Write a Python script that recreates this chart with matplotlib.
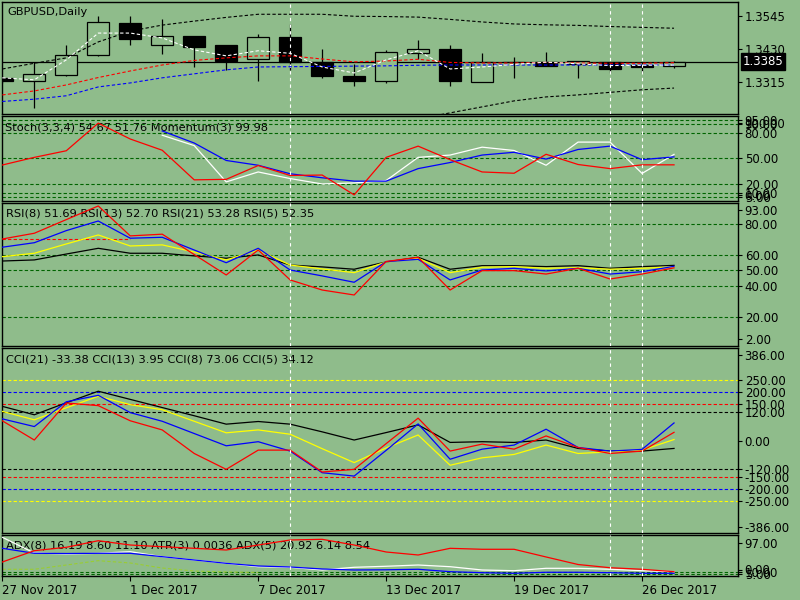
import numpy as np
import matplotlib
matplotlib.use("Agg")
import matplotlib.pyplot as plt
import matplotlib.transforms as mtrans

nan = np.nan

# --- data (22 daily bars, GBPUSD) ---
bars = np.arange(22)
date_ticks = [0, 4, 8, 12, 16, 20]
date_labels = ["27 Nov 2017", "1 Dec 2017", "7 Dec 2017", "13 Dec 2017", "19 Dec 2017", "26 Dec 2017"]

opens = [1.3329, 1.3317, 1.3337, 1.3407, 1.3519, 1.3442, 1.3475, 1.3443, 1.3393, 1.3471, 1.3383,
         1.3336, 1.3316, 1.3416, 1.3429, 1.3313, 1.3383, 1.3383, 1.3376, 1.3383, 1.3373, 1.3371]
highs = [1.3335, 1.3383, 1.3443, 1.3545, 1.3545, 1.3534, 1.3476, 1.3444, 1.3482, 1.3517, 1.3428,
         1.3376, 1.3426, 1.3461, 1.3443, 1.3416, 1.3402, 1.3420, 1.3387, 1.3384, 1.3383, 1.3386]
lows = [1.3310, 1.3221, 1.3336, 1.3405, 1.3443, 1.3411, 1.3367, 1.3356, 1.3318, 1.3356, 1.3329,
        1.3301, 1.3309, 1.3395, 1.3301, 1.3312, 1.3329, 1.3368, 1.3329, 1.3344, 1.3344, 1.3362]
closes = [1.3316, 1.3341, 1.3408, 1.3523, 1.3465, 1.3474, 1.3437, 1.3388, 1.3470, 1.3383, 1.3336,
          1.3316, 1.3418, 1.3428, 1.3318, 1.3383, 1.3384, 1.3371, 1.3386, 1.3360, 1.3367, 1.3385]

ma_white = [1.3328, 1.3321, 1.3391, 1.3485, 1.3485, 1.3468, 1.3426, 1.3405, 1.3423, 1.3414, 1.3366,
            1.3345, 1.3391, 1.3423, 1.3359, 1.3366, 1.3375, 1.3383, 1.3377, 1.3371, 1.3372, 1.3373]
ma_red = [1.3268, 1.3282, 1.3303, 1.3329, 1.3352, 1.3373, 1.3389, 1.3398, 1.3405, 1.3405, 1.3394,
          1.3384, 1.3387, 1.3393, 1.3382, 1.3380, 1.3380, 1.3382, 1.3380, 1.3379, 1.3379, 1.3381]
ma_blue = [1.3245, 1.3253, 1.3265, 1.3296, 1.3310, 1.3328, 1.3342, 1.3356, 1.3366, 1.3367, 1.3368,
           1.3369, 1.3370, 1.3372, 1.3373, 1.3373, 1.3373, 1.3373, 1.3373, 1.3373, 1.3373, 1.3373]
band_up = [1.3359, 1.3379, 1.3398, 1.3454, 1.3492, 1.3513, 1.3527, 1.3540, 1.3551, 1.3551, 1.3551,
           1.3544, 1.3543, 1.3541, 1.3533, 1.3524, 1.3517, 1.3514, 1.3512, 1.3508, 1.3505, 1.3502]
band_dn = [nan] * 12 + [1.3163, 1.3184, 1.3205, 1.3226, 1.3247, 1.3261, 1.3268, 1.3277, 1.3286, 1.3292]

stoch_red = [42.3, 51.2, 58.9, 91.1, 72.6, 59.5, 25.0, 25.6, 41.7, 30.1, 30.6,
             7.5, 51.2, 64.3, 48.5, 34.2, 32.7, 54.8, 42.9, 38.1, 42.5, 42.5]
stoch_white = [nan] * 5 + [77.0, 64.9, 22.6, 34.2, 26.5, 20.2, 21.4, 24.2, 51.2, 53.9, 63.1,
                           59.2, 42.0, 69.0, 69.0, 32.5, 54.7]
stoch_blue = [nan] * 5 + [82.0, 67.9, 47.6, 42.0, 32.1, 27.4, 23.5, 23.5, 38.1, 45.2, 53.9,
                          57.1, 49.2, 60.4, 64.3, 48.5, 51.8]

rsi_red = [70.3, 74.0, 82.8, 91.6, 72.3, 73.4, 60.3, 47.1, 63.2, 43.9, 37.4,
           34.2, 55.8, 58.5, 37.4, 49.9, 49.9, 47.7, 51.4, 44.5, 47.7, 51.7]
rsi_blue = [65.0, 67.9, 75.7, 81.9, 70.8, 71.4, 63.2, 55.0, 64.3, 50.3, 46.5,
            42.4, 55.7, 57.2, 43.9, 50.3, 51.4, 49.7, 51.4, 47.7, 49.2, 52.7]
rsi_yellow = [58.9, 61.1, 67.1, 72.9, 65.8, 66.5, 61.9, 56.8, 63.2, 53.5, 51.0,
              48.6, 55.5, 57.9, 48.6, 52.1, 52.5, 51.4, 51.8, 50.8, 51.4, 52.4]
rsi_black = [56.1, 56.8, 60.6, 64.3, 61.1, 61.1, 59.4, 57.9, 60.0, 53.5, 52.3,
             50.8, 55.5, 58.5, 50.8, 53.1, 53.1, 52.5, 53.1, 51.4, 52.5, 53.3]

cci_black = [142, 107, 157, 205, 171, 137, 103, 68, 79, 68, 36, 2, 33, 65, -8, -5, -8, 2, -33, -44, -44, -33]
cci_yellow = [121, 86, 136, 184, 149, 128, 80, 32, 44, 26, -34, -92, -31, 23, -103, -72, -58, -19, -54, -47, -40, 4]
cci_blue = [90, 58, 161, 188, 116, 80, 29, -22, -5, -44, -134, -148, -41, 69, -78, -36, -19, 47, -29, -44, -37, 73]
cci_red = [82, 2, 156, 145, 82, 44, -54, -120, -40, -40, -131, -120, -13, 93, -44, -15, -36, 19, -29, -54, -44, 34]

adx_red = [33.1, 59.9, 67.9, 83.5, 73.3, 69.3, 65.5, 61.5, 73.3, 85.2, 86.8,
           73.3, 56.8, 49.7, 65.5, 63.2, 63.2, 45.0, 27.2, 19.6, 15.9, 10.2]
adx_white = [91.6, 54.4, 52.1, 53.7, 57.5, 45.7, 37.9, 30.0, 22.0, 20.6, 14.2,
             20.6, 23.0, 26.0, 22.0, 14.2, 12.5, 18.2, 18.2, 15.9, 12.5, 10.2]
adx_blue = [65.5, 53.7, 53.2, 53.7, 53.7, 45.7, 37.9, 30.0, 23.7, 21.3, 16.6,
            14.2, 14.7, 15.9, 10.2, 7.8, 6.4, 8.8, 8.8, 7.8, 6.4, 6.4]
atr_line = [15.9, 15.9, 26.0, 36.2, 30.8, 18.9, 11.8, 9.5, 8.5] + [nan] * 13

BG = "#8FBC8B"
LEVEL = "#006400"
W, H = 800, 600
L, R = 2.3, 738
FS = 8.2
plt.rcParams["font.family"] = "DejaVu Sans"
plt.rcParams["font.size"] = FS

fig = plt.figure(figsize=(8, 6), dpi=100, facecolor=BG)


def panel(top, bottom, ylim):
    ax = fig.add_axes([L / W, 1 - bottom / H, (R - L) / W, (bottom - top) / H])
    ax.set_facecolor(BG)
    for s in ax.spines.values():
        s.set_color("black")
        s.set_linewidth(1.0)
    ax.set_xlim(0, 23)
    ax.set_ylim(*ylim)
    ax.tick_params(axis="x", bottom=False, labelbottom=False)
    ax.yaxis.tick_right()
    ax.tick_params(axis="y", direction="out", length=3, width=0.8, pad=1.8,
                   labelsize=FS + 0.3, colors="black")
    for b in [9, 19, 20]:
        ax.axvline(b, color="white", lw=0.8, ls=(0, (3, 3)), zorder=4)
    return ax


def set_labels(ax, top, bottom, ticks, fmt, top_lab=None, bot_lab=None):
    lo, hi = ax.get_ylim()
    upp = (hi - lo) / (bottom - top)
    pos = list(ticks)
    labs = [fmt % t for t in ticks]
    if top_lab is not None:
        pos.append(hi - 7.5 * upp)
        labs.append(top_lab)
    if bot_lab is not None:
        pos.append(lo + 6.5 * upp)
        labs.append(bot_lab)
    ax.set_yticks(pos)
    ax.set_yticklabels(labs)


def title(ax, text, dx, dy):
    ax.annotate(text, xy=(0, 1), xycoords="axes fraction", xytext=(dx, -dy),
                textcoords="offset pixels", va="center", ha="left", fontsize=FS, zorder=1)


def levels(ax, vals, color):
    for v in vals:
        ax.axhline(v, color=color, lw=0.8, ls=(0, (3, 2)), zorder=1.5)


# --- main price panel ---
ax = panel(2.3, 114, (1.3201, 1.3593))
set_labels(ax, 2.3, 114, [1.3545, 1.3430, 1.3315], "%.4f")
title(ax, "GBPUSD,Daily", 5, 10)
ax.axhline(closes[-1], color="black", lw=0.9, zorder=2)
for i in bars:
    o, h, l, c = opens[i], highs[i], lows[i], closes[i]
    ax.vlines(i, l, h, color="black", lw=0.9, zorder=2)
    up = c >= o
    ax.bar(i, abs(c - o), bottom=min(o, c), width=0.69,
           facecolor=BG if up else "black", edgecolor="black", lw=0.9, zorder=3)
dash = (0, (3, 2))
ax.plot(bars, band_up, color="black", lw=0.8, ls=dash, zorder=5)
ax.plot(bars, band_dn, color="black", lw=0.8, ls=dash, zorder=5)
ax.plot(bars, ma_blue, color="blue", lw=0.8, ls=dash, zorder=5)
ax.plot(bars, ma_red, color="red", lw=0.8, ls=dash, zorder=5)
ax.plot(bars, ma_white, color="white", lw=0.8, ls=dash, zorder=5)
tr = mtrans.blended_transform_factory(ax.transAxes, ax.transData)
ax.text(1.006, closes[-1], "%.4f" % closes[-1], transform=tr, color="white", fontsize=FS + 0.3,
        va="center", ha="left", bbox=dict(fc="black", ec="black", pad=1.2))

# --- stochastic / momentum ---
ax = panel(115.5, 201.3, (0, 100))
set_labels(ax, 115.5, 201.3, [95, 90, 80, 50, 20, 10, 5], "%.2f", "100.00", "0.00")
levels(ax, [95, 90, 80, 50, 20, 10, 5], LEVEL)
title(ax, "Stoch(3,3,4) 54.67 51.76 Momentum(3) 99.98", 3, 11.5)
ax.plot(bars, stoch_white, color="white", lw=0.9, zorder=3)
ax.plot(bars, stoch_blue, color="blue", lw=0.9, zorder=3)
ax.plot(bars, stoch_red, color="red", lw=0.9, zorder=3)

# --- RSI ---
ax = panel(202.7, 345.7, (1.5, 93.7))
set_labels(ax, 202.7, 345.7, [80, 60, 50, 40, 20], "%.2f", "93.00", "2.00")
levels(ax, [80, 60, 50, 40, 20], LEVEL)
title(ax, "RSI(8) 51.69 RSI(13) 52.70 RSI(21) 53.28 RSI(5) 52.35", 4, 11.3)
ax.hlines(70, 0, 4, colors="red", lw=0.8, linestyles=(0, (3, 2)), zorder=2)
ax.plot(bars, rsi_black, color="black", lw=0.9, zorder=3)
ax.plot(bars, rsi_yellow, color="yellow", lw=0.9, zorder=3)
ax.plot(bars, rsi_blue, color="blue", lw=0.9, zorder=3)
ax.plot(bars, rsi_red, color="red", lw=0.9, zorder=3)

# --- CCI ---
ax = panel(347.7, 533.3, (-386, 386))
cci_ticks = [250, 200, 150, 120, 0, -120, -150, -200, -250]
set_labels(ax, 347.7, 533.3, cci_ticks, "%.2f", "386.00", "-386.00")
levels(ax, [250, -250], "yellow")
levels(ax, [200, -200], "blue")
levels(ax, [150, -150], "red")
levels(ax, [120, -120], "black")
title(ax, "CCI(21) -33.38 CCI(13) 3.95 CCI(8) 73.06 CCI(5) 34.12", 4, 12.3)
ax.plot(bars, cci_black, color="black", lw=0.9, zorder=3)
ax.plot(bars, cci_yellow, color="yellow", lw=0.9, zorder=3)
ax.plot(bars, cci_blue, color="blue", lw=0.9, zorder=3)
ax.plot(bars, cci_red, color="red", lw=0.9, zorder=3)

# --- ADX / ATR ---
ax = panel(535, 576, (0, 97))
set_labels(ax, 535, 576, [10, 5], "%.2f", "97.00", "0.00")
levels(ax, [10, 5], LEVEL)
title(ax, "ADX(8) 16.19 8.60 11.10 ATR(3) 0.0036 ADX(5) 20.92 6.14 8.54", 4, 10.7)
ax.plot(bars, atr_line, color="yellowgreen", lw=0.8, ls=(0, (3, 2)), zorder=2)
ax.plot(bars, adx_white, color="white", lw=0.9, zorder=3)
ax.plot(bars, adx_blue, color="blue", lw=0.9, zorder=3)
ax.plot(bars, adx_red, color="red", lw=0.9, zorder=3)
ax.set_xticks(date_ticks)
ax.set_xticklabels(date_labels, ha="left")
ax.tick_params(axis="x", bottom=True, labelbottom=True, direction="out", length=3.5,
               width=0.8, pad=2.5, labelsize=FS + 0.3)

fig.savefig("out.png", dpi=100, facecolor=BG)
